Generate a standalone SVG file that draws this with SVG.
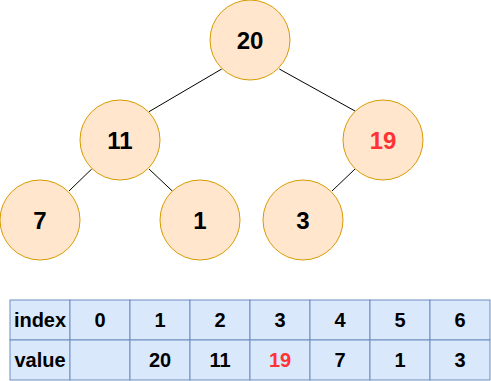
<svg xmlns="http://www.w3.org/2000/svg" width="491" height="381" viewBox="0 0 491 381">
<style>
.n{fill:#ffe6cc;stroke:#d79b00;stroke-width:1}
.t{font-family:"Liberation Sans",Arial,sans-serif;font-weight:bold;font-size:20px;text-anchor:middle;dominant-baseline:central;fill:#000}
.b{font-size:24px}
.r{fill:#ff3333}
.c{fill:#dae8fc;stroke:#6c8ebf;stroke-width:1}
.e{stroke:#000;stroke-width:1;fill:none}
</style>
<rect width="491" height="381" fill="#fff"/>
<g id="edges">
<line class="e" x1="221.7" y1="69" x2="149" y2="111.7"/>
<line class="e" x1="279.3" y1="69" x2="355" y2="111"/>
<line class="e" x1="91.7" y1="169" x2="69" y2="191"/>
<line class="e" x1="149" y1="169" x2="172.3" y2="191"/>
<line class="e" x1="355" y1="169" x2="332" y2="191"/>
</g>
<g id="n20"><circle class="n" cx="250" cy="40" r="40"/><text class="t b" x="250" y="40">20</text></g>
<g id="n11"><circle class="n" cx="120" cy="140" r="40"/><text class="t b" x="120" y="140">11</text></g>
<g id="n19"><circle class="n" cx="383" cy="140" r="40"/><text class="t b r" x="383" y="140">19</text></g>
<g id="n7"><circle class="n" cx="40" cy="220" r="40"/><text class="t b" x="40" y="220">7</text></g>
<g id="n1"><circle class="n" cx="200" cy="220" r="40"/><text class="t b" x="200" y="220">1</text></g>
<g id="n3"><circle class="n" cx="303" cy="220" r="40"/><text class="t b" x="303" y="220">3</text></g>
<g id="table">
<rect class="c" x="10" y="300" width="60" height="40"/>
<rect class="c" x="70" y="300" width="60" height="40"/>
<rect class="c" x="130" y="300" width="60" height="40"/>
<rect class="c" x="190" y="300" width="60" height="40"/>
<rect class="c" x="250" y="300" width="60" height="40"/>
<rect class="c" x="310" y="300" width="60" height="40"/>
<rect class="c" x="370" y="300" width="60" height="40"/>
<rect class="c" x="430" y="300" width="60" height="40"/>
<rect class="c" x="10" y="340" width="60" height="40"/>
<rect class="c" x="70" y="340" width="60" height="40"/>
<rect class="c" x="130" y="340" width="60" height="40"/>
<rect class="c" x="190" y="340" width="60" height="40"/>
<rect class="c" x="250" y="340" width="60" height="40"/>
<rect class="c" x="310" y="340" width="60" height="40"/>
<rect class="c" x="370" y="340" width="60" height="40"/>
<rect class="c" x="430" y="340" width="60" height="40"/>
<text class="t" x="40" y="320">index</text>
<text class="t" x="100" y="320">0</text>
<text class="t" x="160" y="320">1</text>
<text class="t" x="220" y="320">2</text>
<text class="t" x="280" y="320">3</text>
<text class="t" x="340" y="320">4</text>
<text class="t" x="400" y="320">5</text>
<text class="t" x="460" y="320">6</text>
<text class="t" x="40" y="360">value</text>
<text class="t" x="160" y="360">20</text>
<text class="t" x="220" y="360">11</text>
<text class="t r" x="280" y="360">19</text>
<text class="t" x="340" y="360">7</text>
<text class="t" x="400" y="360">1</text>
<text class="t" x="460" y="360">3</text>
</g>
</svg>
